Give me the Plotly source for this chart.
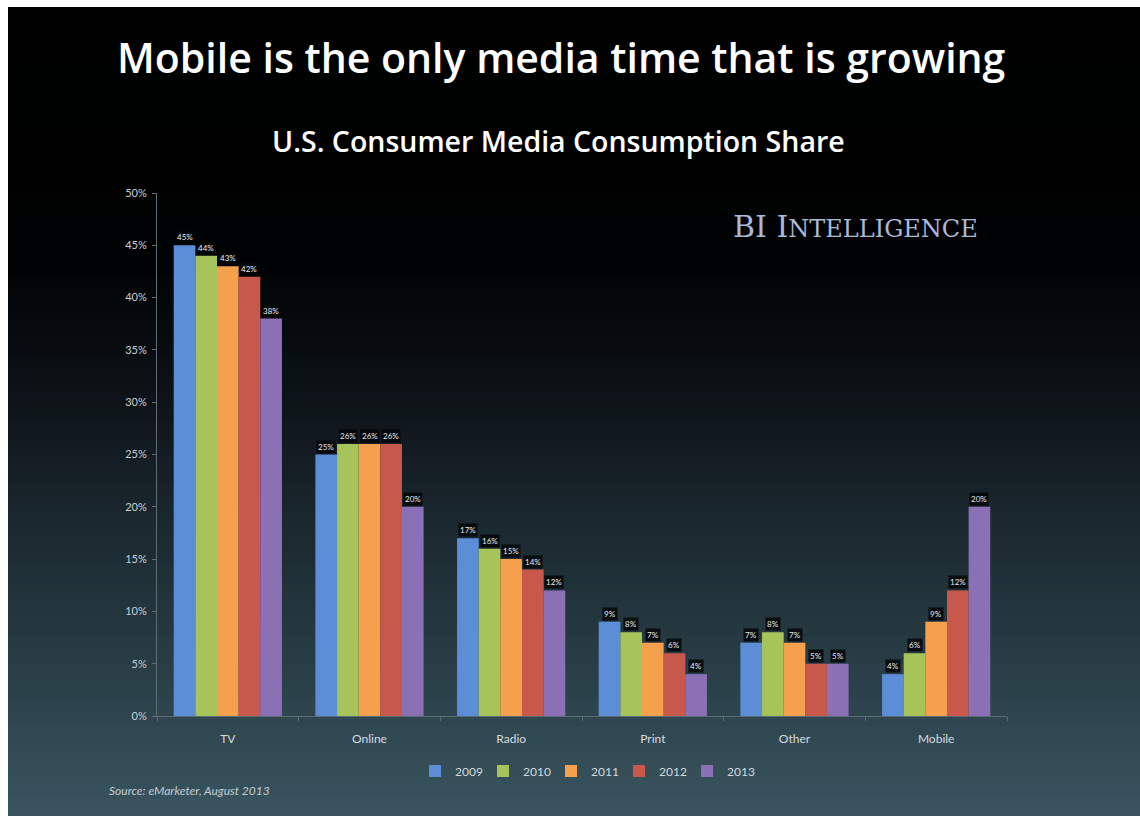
import plotly.graph_objects as go

# Media consumption share by channel and year (percent)
categories = ["TV", "Online", "Radio", "Print", "Other", "Mobile"]
years = ["2009", "2010", "2011", "2012", "2013"]
share_2009 = [45, 25, 17, 9, 7, 4]
share_2010 = [44, 26, 16, 8, 8, 6]
share_2011 = [43, 26, 15, 7, 7, 9]
share_2012 = [42, 26, 14, 6, 5, 12]
share_2013 = [38, 20, 12, 4, 5, 20]
y_ticks = [0, 5, 10, 15, 20, 25, 30, 35, 40, 45, 50]

series = [share_2009, share_2010, share_2011, share_2012, share_2013]
colors = ["#5b8ed6", "#a6c45a", "#f5a04c", "#c8584b", "#8b70b5"]

W, H = 1140, 816
BARGAP = 0.236

fig = go.Figure()
for name, vals, col in zip(years, series, colors):
    fig.add_trace(go.Bar(
        x=categories, y=vals, name=name,
        marker=dict(color=col, line=dict(width=0)),
        hoverinfo="x+y+name",
    ))

# value labels on small dark tags just above each bar
n = len(series)
slot = (1 - BARGAP) / n
annotations = []
for i, vals in enumerate(series):
    off = (i - (n - 1) / 2) * slot
    for j, v in enumerate(vals):
        annotations.append(dict(
            x=j + off, y=v, xref="x", yref="y", text=f"{v}%",
            showarrow=False, yanchor="bottom", yshift=1,
            font=dict(family="Lato, sans-serif", size=8, color="#e8ecef"),
            bgcolor="rgba(4,6,8,0.85)", borderpad=1,
        ))

# background: white frame edge plus vertical black-to-teal gradient
shapes = []
stops = [(0, (0, 0, 0)), (260, (1, 2, 3)), (390, (12, 18, 22)),
         (510, (25, 38, 45)), (630, (37, 56, 64)), (816, (57, 85, 96))]


def color_at(yp):
    for (y0, c0), (y1, c1) in zip(stops[:-1], stops[1:]):
        if y0 <= yp <= y1:
            t = (yp - y0) / (y1 - y0)
            return tuple(round(a + (b - a) * t) for a, b in zip(c0, c1))
    return stops[-1][1]


top_px, left_px = 7, 8
bands = 90
for k in range(bands):
    y0p = top_px + (H - top_px) * k / bands
    y1p = top_px + (H - top_px) * (k + 1) / bands
    r, g, b = color_at((y0p + y1p) / 2)
    col = f"rgb({r},{g},{b})"
    # each band runs a few pixels into the next one to hide seams
    y_low = max(0.0, 1 - (y1p + 3) / H)
    shapes.append(dict(
        type="rect", xref="paper", yref="paper", layer="below",
        x0=left_px / W, x1=1, y0=y_low, y1=1 - y0p / H,
        fillcolor=col, line=dict(width=0, color=col),
    ))

annotations += [
    dict(text="Mobile is the only media time that is growing",
         x=561 / W, y=1 - 57 / H, xref="paper", yref="paper",
         showarrow=False, xanchor="center", yanchor="middle",
         font=dict(family="Open Sans, sans-serif", size=41, color="#ffffff",
                   weight=600)),
    dict(text="U.S. Consumer Media Consumption Share",
         x=558 / W, y=1 - 141 / H, xref="paper", yref="paper",
         showarrow=False, xanchor="center", yanchor="middle",
         font=dict(family="Open Sans, sans-serif", size=28.5, color="#ffffff",
                   weight=600)),
    dict(text="BI I<span style='font-size:24px'>NTELLIGENCE</span>",
         x=855 / W, y=1 - 226 / H, xref="paper", yref="paper",
         showarrow=False, xanchor="center", yanchor="middle",
         font=dict(family="DejaVu Serif, serif", size=30, color="#a9b9d6")),
    dict(text="<i>Source: eMarketer, August 2013</i>",
         x=107 / W, y=1 - 790 / H, xref="paper", yref="paper",
         showarrow=False, xanchor="left", yanchor="middle",
         font=dict(family="Lato, sans-serif", size=12, color="#c3ccd1")),
]

axis_col = "#5f6d74"
fig.update_layout(
    width=W, height=H,
    margin=dict(l=0, r=0, t=0, b=0, autoexpand=False),
    paper_bgcolor="#ffffff",
    plot_bgcolor="rgba(0,0,0,0)",
    barmode="group", bargap=BARGAP, bargroupgap=0,
    shapes=shapes, annotations=annotations,
    showlegend=True,
    legend=dict(orientation="h", x=585 / W, y=1 - 771 / H,
                xanchor="center", yanchor="middle",
                font=dict(family="Lato, sans-serif", size=12, color="#d3d9dc"),
                itemwidth=30, entrywidth=23, entrywidthmode="pixels",
                bgcolor="rgba(0,0,0,0)", tracegroupgap=0),
    xaxis=dict(
        domain=[157 / W, 1007 / W],
        showgrid=False, showline=True, linecolor=axis_col, linewidth=1,
        ticks="outside", tickson="boundaries", ticklen=4, tickcolor=axis_col,
        tickfont=dict(family="Lato, sans-serif", size=12, color="#d6dce0"),
        ticklabelstandoff=12, fixedrange=True, automargin=False,
    ),
    yaxis=dict(
        domain=[1 - 716 / H, 1 - 193 / H],
        range=[0, 50], tickvals=y_ticks,
        ticktext=[f"{t}%" for t in y_ticks],
        showgrid=False, zeroline=False, showline=True, linecolor=axis_col,
        linewidth=1, ticks="outside", ticklen=4, tickcolor=axis_col,
        tickfont=dict(family="Lato, sans-serif", size=11, color="#c9d0d4"),
        ticklabelstandoff=3, fixedrange=True, automargin=False,
    ),
)

fig.write_html("out.html")
